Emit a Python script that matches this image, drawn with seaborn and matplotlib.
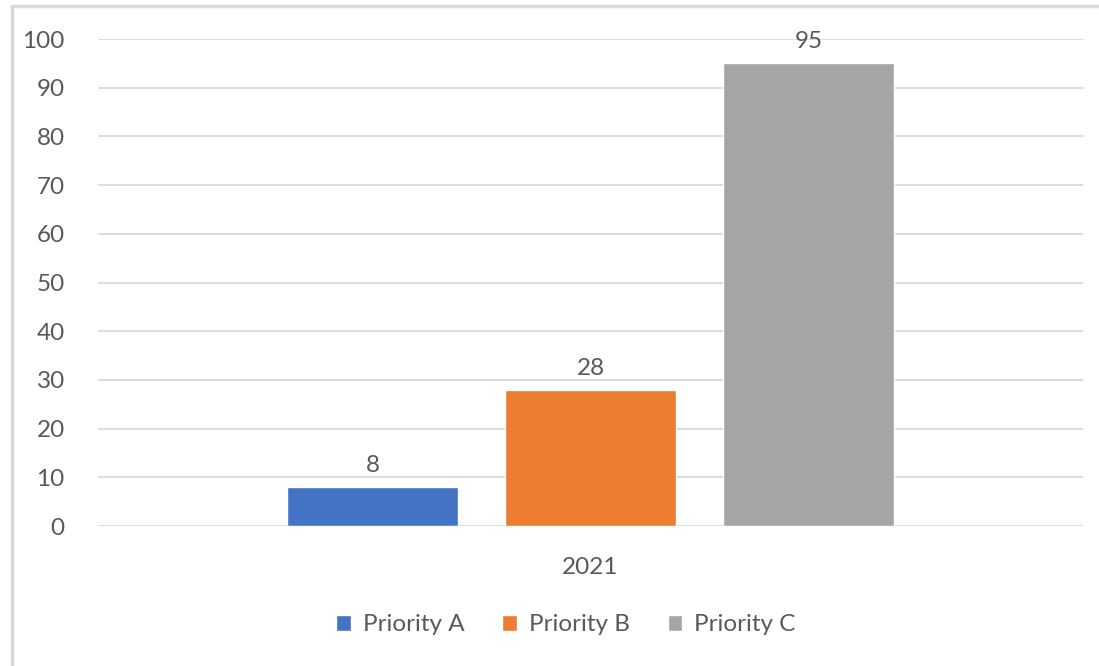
import matplotlib
matplotlib.use("Agg")
import matplotlib.pyplot as plt
import pandas as pd
import seaborn as sns
from matplotlib.lines import Line2D

years = ["2021", "2021", "2021"]
priorities = ["Priority A", "Priority B", "Priority C"]
counts = [8, 28, 95]
colors = ["#4472C4", "#ED7D31", "#A5A5A5"]

df = pd.DataFrame({"year": years, "priority": priorities, "count": counts})

sns.set_theme(style="white")
plt.rcParams["font.family"] = ["Lato", "DejaVu Sans"]
text_color = "#595959"
fsize = 17.5

fig = plt.figure(figsize=(10.99, 6.66), dpi=100)
ax = fig.add_axes([0.0892, 0.2102, 0.8962, 0.7312])

sns.barplot(data=df, x="year", y="count", hue="priority", palette=colors,
            saturation=1, width=0.664, gap=0.22, ax=ax, legend=True)

ax.set_ylim(0, 100)
ax.set_xlim(-0.5, 0.5)
ax.set_yticks(range(0, 101, 10))
ax.yaxis.grid(True, color="#D9D9D9", linewidth=1.3)
ax.set_axisbelow(True)
for s in ax.spines.values():
    s.set_visible(False)
ax.tick_params(axis="both", length=0, labelsize=fsize, colors=text_color)
ax.tick_params(axis="y", pad=24)
ax.tick_params(axis="x", pad=22)
ax.set_xlabel("")
ax.set_ylabel("")

for cont in ax.containers:
    ax.bar_label(cont, fontsize=fsize, color=text_color, padding=8)

handles, labels = ax.get_legend_handles_labels()
ax.legend_.remove()
fig.legend(handles, labels, loc="center", bbox_to_anchor=(0.515, 0.0616), ncol=3,
           frameon=False, fontsize=fsize, labelcolor=text_color, handlelength=0.6,
           handleheight=0.6, handletextpad=0.5, columnspacing=1.55)

# chart area border (top and left visible in the screenshot)
fig.add_artist(Line2D([0.0105, 1.0], [0.9915, 0.9915], color="#D9D9D9", linewidth=2.5,
                      transform=fig.transFigure))
fig.add_artist(Line2D([0.0105, 0.0105], [0.0, 0.9915], color="#D9D9D9", linewidth=2.5,
                      transform=fig.transFigure))

fig.savefig("out.png", dpi=100)
